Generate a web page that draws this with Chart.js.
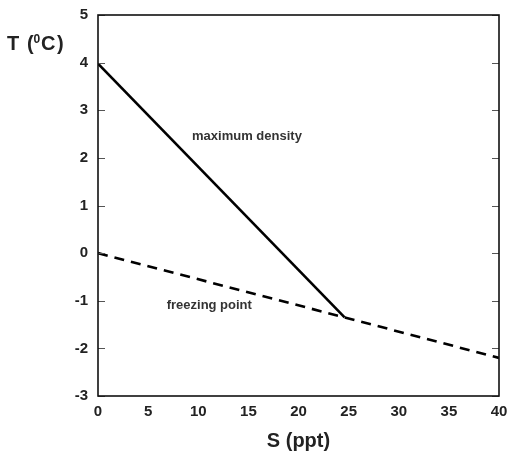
<!DOCTYPE html>
<html>
<head>
<meta charset="utf-8">
<script src="https://cdn.jsdelivr.net/npm/chart.js@4/dist/chart.umd.min.js"></script>
<style>
  html, body { margin: 0; padding: 0; background: #fff; }
  #wrap { width: 508px; height: 457px; }
</style>
</head>
<body>
<div id="wrap"><canvas id="tsChart"></canvas></div>
<script>
// === DATA ===
const maxDensityS = [0, 24.6];
const maxDensityT = [3.98, -1.35];
const freezingS = [0, 24.6, 40];
const freezingT = [0, -1.35, -2.2];
const sTicks = [0, 5, 10, 15, 20, 25, 30, 35, 40];
const tTicks = [-3, -2, -1, 0, 1, 2, 3, 4, 5];
const curveLabels = ['maximum density', 'freezing point'];
const labelS = [14.86, 11.1];
const labelT = [2.44, -1.09];

const FONT = '"Liberation Sans", Arial, Helvetica, sans-serif';

function toPoints(xs, ys) {
  return xs.map((x, i) => ({ x: x, y: ys[i] }));
}

// === FRAME, INWARD TICKS, TITLES, CURVE LABELS ===
const decorPlugin = {
  id: 'decor',
  afterDraw(chart) {
    const ctx = chart.ctx;
    const area = chart.chartArea;
    const xs = chart.scales.x;
    const ys = chart.scales.y;
    ctx.save();

    // tick marks pointing into the plot, both sides
    ctx.strokeStyle = '#555';
    ctx.lineWidth = 1;
    tTicks.forEach(v => {
      const py = Math.round(ys.getPixelForValue(v)) + 0.5;
      ctx.beginPath();
      ctx.moveTo(area.left, py);
      ctx.lineTo(area.left + 7, py);
      ctx.moveTo(area.right, py);
      ctx.lineTo(area.right - 7, py);
      ctx.stroke();
    });

    // plot frame
    ctx.strokeStyle = '#111';
    ctx.lineWidth = 1.6;
    ctx.strokeRect(area.left, area.top, area.right - area.left, area.bottom - area.top);

    // curve labels
    ctx.fillStyle = '#333';
    ctx.font = 'bold 13px ' + FONT;
    ctx.textAlign = 'center';
    ctx.textBaseline = 'middle';
    curveLabels.forEach((txt, i) => {
      ctx.fillText(txt, xs.getPixelForValue(labelS[i]), ys.getPixelForValue(labelT[i]));
    });

    // y title "T (0C)" with the 0 raised
    ctx.fillStyle = '#222';
    ctx.textAlign = 'left';
    ctx.textBaseline = 'alphabetic';
    const base = 50;
    ctx.font = 'bold 20px ' + FONT;
    ctx.fillText('T', 7, base);
    ctx.fillText('(', 27, base);
    ctx.fillText('C', 41, base);
    ctx.fillText(')', 57, base);
    ctx.font = 'bold 12px ' + FONT;
    ctx.fillText('0', 33.5, base - 7);

    ctx.restore();
  }
};

// === CHART ===
const tsChart = new Chart(document.getElementById('tsChart'), {
  type: 'line',
  data: {
    datasets: [
      {
        label: 'maximum density',
        data: toPoints(maxDensityS, maxDensityT),
        borderColor: '#000',
        borderWidth: 2.6,
        pointRadius: 0,
        tension: 0
      },
      {
        label: 'freezing point',
        data: toPoints(freezingS, freezingT),
        borderColor: '#000',
        borderWidth: 2.6,
        borderDash: [10, 7],
        pointRadius: 0,
        tension: 0
      }
    ]
  },
  options: {
    responsive: true,
    maintainAspectRatio: false,
    animation: false,
    layout: { padding: { top: 15, right: 9, left: 0, bottom: 0 } },
    plugins: {
      legend: { display: false },
      tooltip: { enabled: false }
    },
    scales: {
      x: {
        type: 'linear',
        min: 0,
        max: 40,
        afterFit(scale) {
          scale.height = 61;
          scale.paddingLeft = 0;
          scale.paddingRight = 0;
        },
        afterBuildTicks(scale) { scale.ticks = sTicks.map(v => ({ value: v })); },
        grid: { display: false, drawTicks: false },
        border: { display: false },
        ticks: {
          color: '#222',
          padding: 7,
          maxRotation: 0,
          font: { family: FONT, size: 15, weight: 'bold' }
        },
        title: {
          display: true,
          text: 'S (ppt)',
          color: '#222',
          padding: { top: 0, bottom: 4 },
          font: { family: FONT, size: 20, weight: 'bold' }
        }
      },
      y: {
        type: 'linear',
        min: -3,
        max: 5,
        afterFit(scale) {
          scale.width = 98;
          scale.paddingTop = 0;
          scale.paddingBottom = 0;
        },
        afterBuildTicks(scale) { scale.ticks = tTicks.map(v => ({ value: v })); },
        grid: { display: false, drawTicks: false },
        border: { display: false },
        ticks: {
          color: '#222',
          padding: 10,
          font: { family: FONT, size: 15, weight: 'bold' }
        }
      }
    }
  },
  plugins: [decorPlugin]
});
</script>
</body>
</html>
